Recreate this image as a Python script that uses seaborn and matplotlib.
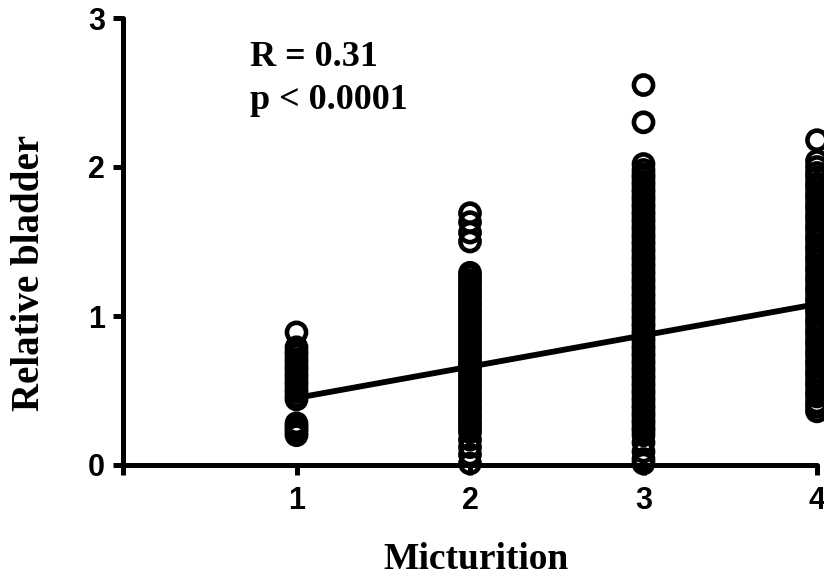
import numpy as np
import pandas as pd
import matplotlib
matplotlib.use("Agg")
import matplotlib.pyplot as plt
import seaborn as sns

# ---- data ----
g1 = [0.89, 0.79, 0.76, 0.74, 0.71, 0.69, 0.66, 0.64, 0.61, 0.59, 0.56, 0.54,
      0.51, 0.49, 0.46, 0.44, 0.28, 0.26, 0.24, 0.22, 0.20]
g2 = [1.69, 1.63, 1.56, 1.50,
      1.29, 1.27, 1.24, 1.22, 1.19, 1.17, 1.14, 1.12, 1.09, 1.07, 1.04, 1.02,
      0.99, 0.97, 0.94, 0.92, 0.89, 0.87, 0.84, 0.82, 0.79, 0.77, 0.74, 0.72,
      0.69, 0.67, 0.64, 0.62, 0.59, 0.57, 0.54, 0.52, 0.49, 0.47, 0.44, 0.42,
      0.39, 0.37, 0.34, 0.32, 0.29, 0.27, 0.24, 0.22, 0.17, 0.12, 0.07, 0.01]
g3 = [2.55, 2.30, 2.02, 1.98,
      1.95, 1.93, 1.90, 1.88, 1.85, 1.83, 1.80, 1.78, 1.75, 1.73, 1.70, 1.68,
      1.65, 1.63, 1.60, 1.58, 1.55, 1.53, 1.50, 1.48, 1.45, 1.43, 1.40, 1.38,
      1.35, 1.33, 1.30, 1.28, 1.25, 1.23, 1.20, 1.18, 1.15, 1.13, 1.10, 1.08,
      1.05, 1.03, 1.00, 0.98, 0.95, 0.93, 0.90, 0.88, 0.85, 0.83, 0.80, 0.78,
      0.75, 0.73, 0.70, 0.68, 0.65, 0.63, 0.60, 0.58, 0.55, 0.53, 0.50, 0.48,
      0.45, 0.43, 0.40, 0.38, 0.35, 0.33, 0.30, 0.28, 0.25, 0.23, 0.20, 0.15,
      0.09, 0.04, 0.01]
g4 = [2.18, 2.04,
      2.00, 1.96, 1.93, 1.89, 1.86, 1.82, 1.79, 1.75, 1.72, 1.68, 1.65, 1.61,
      1.58, 1.54, 1.51, 1.47, 1.44, 1.40, 1.37, 1.33, 1.30, 1.26, 1.23, 1.19,
      1.16, 1.12, 1.09, 1.05, 1.02, 0.98, 0.95, 0.91, 0.88, 0.84, 0.81, 0.77,
      0.74, 0.70, 0.67, 0.63, 0.60, 0.56, 0.53, 0.49, 0.46, 0.42, 0.39, 0.36]
groups = [1, 2, 3, 4]
values = [g1, g2, g3, g4]

fit_x = [1, 4]
fit_y = [0.45, 1.08]

x_ticks = [0, 1, 2, 3, 4]
x_ticklabels = ["", "1", "2", "3", "4"]
y_ticks = [0, 1, 2, 3]
y_ticklabels = ["0", "1", "2", "3"]

annot_lines = ["R = 0.31", "p < 0.0001"]
x_label = "Micturition"
y_label = "Relative bladder"

# ---- build table ----
rows = []
for g, vals in zip(groups, values):
    for v in vals:
        rows.append({"Micturition": g, "Relative bladder": v})
df = pd.DataFrame(rows)

sns.set_style("ticks")
plt.rcParams["font.family"] = ["Liberation Sans", "DejaVu Sans"]
for key in ["text.color", "axes.labelcolor", "xtick.color", "ytick.color",
            "axes.edgecolor"]:
    plt.rcParams[key] = "black"

fig = plt.figure(figsize=(8.24, 5.78), dpi=100)
ax = fig.add_axes([123 / 824, 113 / 578, (817 - 123) / 824, (465 - 18) / 578])

sns.lineplot(x=fit_x, y=fit_y, color="black", linewidth=4.2, ax=ax, zorder=3)
sns.scatterplot(data=df, x="Micturition", y="Relative bladder", ax=ax,
                marker="o", s=190, color="none", edgecolor="black",
                linewidth=3.3, clip_on=False, zorder=4)

ax.set_xlim(0, 4)
ax.set_ylim(0, 3)
ax.set_xticks(x_ticks)
ax.set_xticklabels(x_ticklabels)
ax.set_yticks(y_ticks)
ax.set_yticklabels(y_ticklabels)

for side in ["top", "right"]:
    ax.spines[side].set_visible(False)
for side in ["left", "bottom"]:
    ax.spines[side].set_linewidth(3.6)
    ax.spines[side].set_color("black")
    ax.spines[side].set_capstyle("round")

ax.tick_params(axis="both", direction="out", length=7, width=3.6,
               color="black", labelcolor="black")
ax.tick_params(axis="x", pad=8)
ax.tick_params(axis="y", pad=6)
for lab in ax.get_xticklabels() + ax.get_yticklabels():
    lab.set_fontsize(22)
    lab.set_fontweight("bold")
    lab.set_family(["Liberation Sans", "DejaVu Sans"])

ax.set_xlabel("")
ax.set_ylabel("")

serif = ["Liberation Serif", "DejaVu Serif"]
ax.text(0.73, 2.68, annot_lines[0], fontsize=26, fontweight="bold",
        family=serif, ha="left", va="baseline", color="black")
ax.text(0.73, 2.39, annot_lines[1], fontsize=26, fontweight="bold",
        family=serif, ha="left", va="baseline", color="black")

fig.text(476 / 824, 9 / 578, x_label, fontsize=27, fontweight="bold",
         family=serif, ha="center", va="baseline", color="black")
fig.text(30 / 824, 1 - 273 / 578, y_label, fontsize=28, fontweight="bold",
         family=serif, ha="center", va="center", rotation=90, color="black")

fig.savefig("out.png", dpi=100)
